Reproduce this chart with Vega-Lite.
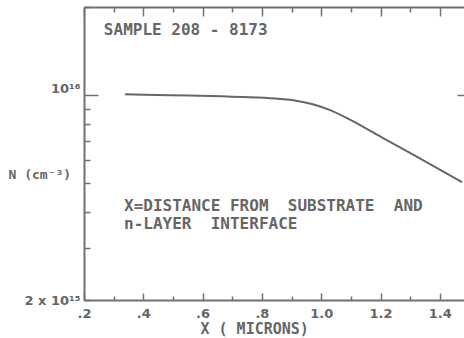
{
  "$schema": "https://vega.github.io/schema/vega-lite/v6.json",
  "width": 380,
  "height": 293,
  "autosize": "none",
  "padding": {"left": 84, "top": 7, "right": 0, "bottom": 38},
  "background": "white",
  "config": {
    "view": {"stroke": null},
    "axis": {"domainColor": "#707070", "domainWidth": 2, "tickColor": "#707070", "tickWidth": 1.5, "labelColor": "#666666", "titleColor": "#666666", "labelFont": "DejaVu Sans", "labelFontWeight": "bold", "titleFont": "DejaVu Sans Mono", "grid": false},
    "text": {"font": "DejaVu Sans Mono", "color": "#666666", "fontWeight": "bold"}
  },
  "datasets": {
    "profile": [
      {"x": 0.338, "n": 1.008e16},
      {"x": 0.49, "n": 1.0e16},
      {"x": 0.625, "n": 0.9945e16},
      {"x": 0.76, "n": 0.984e16},
      {"x": 0.861, "n": 0.9713e16},
      {"x": 0.915, "n": 0.9577e16},
      {"x": 0.972, "n": 0.9317e16},
      {"x": 1.03, "n": 0.889e16},
      {"x": 1.087, "n": 0.835e16},
      {"x": 1.198, "n": 0.7244e16},
      {"x": 1.31, "n": 0.627e16},
      {"x": 1.451, "n": 0.521e16},
      {"x": 1.475, "n": 0.505e16}
    ],
    "one": [{}]
  },
  "resolve": {"axis": {"x": "independent", "y": "independent"}},
  "layer": [
    {
      "data": {"name": "profile"},
      "mark": {"type": "line", "color": "#666666", "strokeWidth": 2, "interpolate": "monotone"},
      "encoding": {
        "x": {"field": "x", "type": "quantitative", "scale": {"domain": [0.2, 1.4816], "nice": false, "zero": false},
          "axis": {"orient": "bottom", "values": [0.2,0.3,0.4,0.5,0.6,0.7,0.8,0.9,1.0,1.1,1.2,1.3,1.4],
            "tickSize": {"condition": {"test": "round(datum.value*10) % 2 == 0", "value": -7}, "value": -4},
            "labelPadding": {"condition": {"test": "round(datum.value*10) % 2 == 0", "value": 14}, "value": 11},
            "labelExpr": "round(datum.value*10) % 2 == 0 ? (datum.value < 1 ? replace(format(datum.value, '.1f'), '0.', '.') : format(datum.value, '.1f')) : ''",
            "labelFontSize": 13, "labelBaseline": "top", "labelFlush": false,
            "title": "X ( MICRONS)", "titleFontSize": 15, "titleFontWeight": "bold", "titleAlign": "left", "titleAnchor": "start", "titleX": 116, "titleY": 33, "titleBaseline": "alphabetic"}},
        "y": {"field": "n", "type": "quantitative", "scale": {"type": "log", "domain": [2e15, 2e16], "nice": false},
          "axis": {"orient": "left", "values": [2e15,3e15,4e15,5e15,6e15,7e15,8e15,9e15,1e16,2e16],
            "tickSize": {"condition": {"test": "datum.value == 1e16", "value": -14}, "value": -6},
            "labelPadding": {"condition": {"test": "datum.value == 1e16", "value": 18}, "value": 10},
            "labelOffset": {"condition": {"test": "datum.value == 1e16", "value": -7}, "value": 0},
            "labelExpr": "datum.value == 1e16 ? '10¹⁶' : (datum.value == 2e15 ? '2 x 10¹⁵' : '')",
            "labelFontSize": 13, "labelBaseline": "middle", "labelFlush": false,
            "title": "N (cm⁻³)", "titleAngle": 0, "titleFontSize": 13, "titleFontWeight": "bold", "titleAlign": "left", "titleAnchor": "start", "titleX": -76, "titleY": 171, "titleBaseline": "alphabetic"}}
      }
    },
    {
      "data": {"name": "one"},
      "mark": {"type": "text", "align": "left", "baseline": "alphabetic", "fontSize": 16},
      "encoding": {
        "x": {"datum": 0.267, "type": "quantitative",
          "axis": {"orient": "top", "values": [0.2,0.3,0.4,0.5,0.6,0.7,0.8,0.9,1.0,1.1,1.2,1.3,1.4],
            "tickSize": {"condition": {"test": "round(datum.value*10) % 2 == 0", "value": -9}, "value": -5},
            "labels": false, "title": null}},
        "y": {"datum": 1.6e16, "type": "quantitative",
          "axis": {"orient": "right", "values": [1e16], "tickSize": -7, "labels": false, "domain": false, "title": null}},
        "text": {"value": "SAMPLE 208 - 8173"}
      }
    },
    {
      "data": {"name": "one"},
      "mark": {"type": "text", "align": "left", "baseline": "alphabetic", "fontSize": 16, "lineHeight": 18},
      "encoding": {
        "x": {"datum": 0.335, "type": "quantitative", "axis": null},
        "y": {"datum": 4.02e15, "type": "quantitative", "axis": null},
        "text": {"value": ["X=DISTANCE FROM\u00a0 SUBSTRATE\u00a0 AND", "n-LAYER\u00a0 INTERFACE"]}
      }
    }
  ]
}
